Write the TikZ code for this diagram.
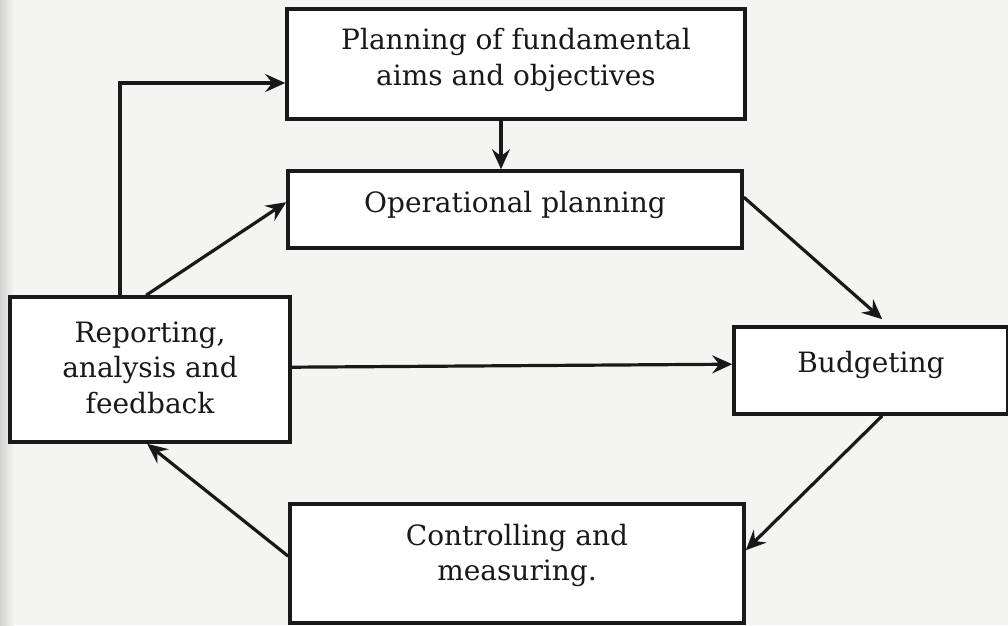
\documentclass[tikz,border=0pt]{standalone}
\usepackage{fontspec}
\setmainfont{DejaVu Serif}
\usetikzlibrary{arrows.meta,calc}
\definecolor{paper}{RGB}{244,244,242}
\definecolor{ink}{RGB}{25,25,25}
\begin{document}
\begin{tikzpicture}[x=1pt,y=-1pt,
  box/.style={draw=ink,line width=3.6pt,fill=white,rectangle,inner sep=0pt,align=center},
  txt/.style={align=center,font=\fontsize{28}{35.5}\selectfont,text=ink,inner sep=0pt},
  conn/.style={draw=ink,line width=3.2pt,-{Stealth[length=20pt,width=18pt,inset=7pt]}}]
\useasboundingbox (0,0) rectangle (1008,625);
\fill[paper] (0,0) rectangle (1008,625);
\shade[left color=gray!35,right color=paper] (0,0) rectangle (14,625);
% boxes
\node[box,minimum width=458pt,minimum height=110pt] (plan) at (516,64) {};
\node[txt] at ([yshift=4pt]plan.center) {Planning of fundamental\\aims and objectives};
\node[box,minimum width=454pt,minimum height=77pt] (oper) at (515,209.5) {};
\node[txt] at ([yshift=5pt]oper.center) {Operational planning};
\node[box,minimum width=274pt,minimum height=87pt] (budg) at (871,370.5) {};
\node[txt] at ([yshift=6pt]budg.center) {Budgeting};
\node[box,minimum width=280pt,minimum height=145pt] (rep) at (150,369.5) {};
\node[txt] at ([yshift=2pt]rep.center) {Reporting,\\analysis and\\feedback};
\node[box,minimum width=454pt,minimum height=119pt] (ctrl) at (517,563.5) {};
\node[txt] at ([yshift=8pt]ctrl.center) {Controlling and\\measuring.};
% connectors
\coordinate (c1) at (120,83);
\draw[conn] (rep.north west -| c1) |- (plan.west |- c1);
\draw[conn] ($(rep.north west)+(138,0)$) -- ($(oper.north west)+(0,33)$);
\draw[conn] (plan.south -| 501,0) -- (oper.north -| 501,0);
\draw[conn] ($(oper.north east)+(0,28)$) -- ($(budg.north west)+(150,-6)$);
\draw[conn] ($(rep.north east)+(0,72)$) -- ($(budg.north west)+(0,39)$);
\draw[conn] ($(budg.south west)+(150,0)$) -- ($(ctrl.north east)+(0,48)$);
\draw[conn] ($(ctrl.north west)+(0,54)$) -- ($(rep.south west)+(139,0)$);
\end{tikzpicture}
\end{document}
